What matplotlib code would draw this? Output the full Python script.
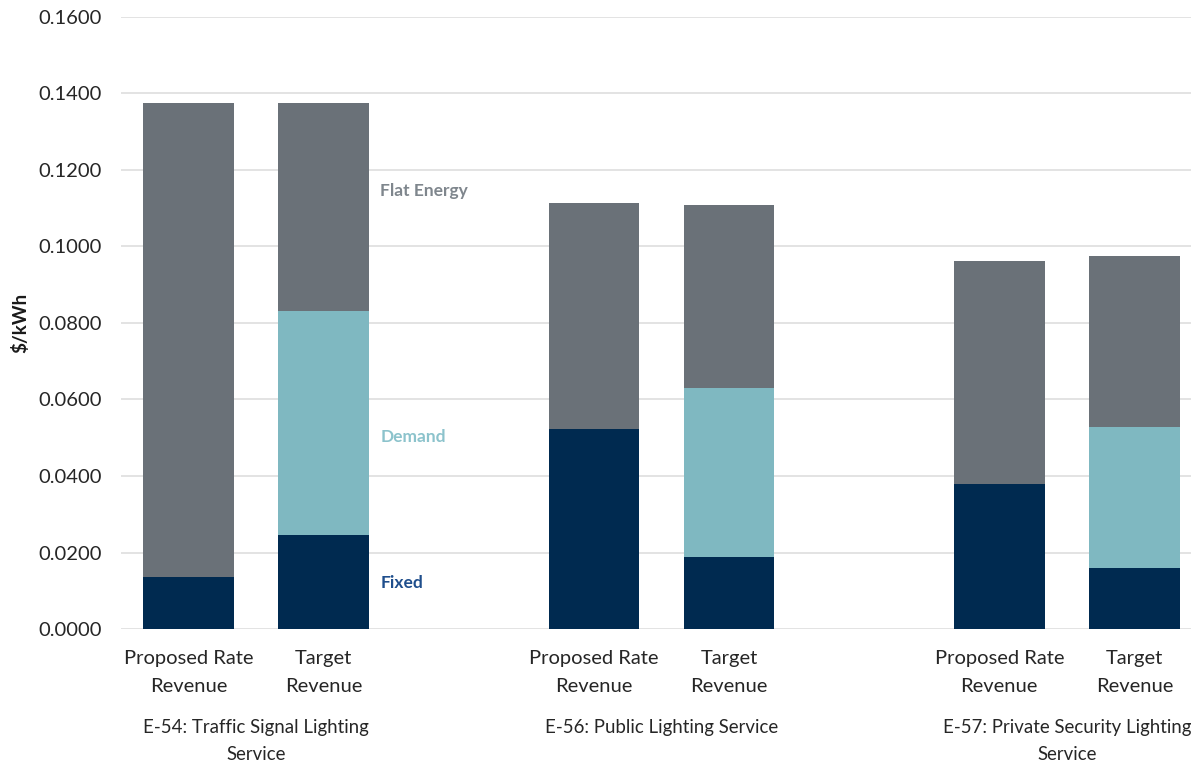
import matplotlib.pyplot as plt
import matplotlib.transforms as mtransforms
import numpy as np

plt.rcParams['font.family'] = ['Lato', 'DejaVu Sans']

bar_labels = ['Proposed Rate\nRevenue', 'Target\nRevenue'] * 3
groups = ['E-54: Traffic Signal Lighting\nService', 'E-56: Public Lighting Service',
          'E-57: Private Security Lighting\nService']

fixed = [0.0135, 0.0247, 0.0523, 0.0189, 0.0378, 0.0160]
demand = [0.0, 0.0585, 0.0, 0.0442, 0.0, 0.0368]
flat_energy = [0.1239, 0.0542, 0.0590, 0.0477, 0.0583, 0.0448]

C_FIXED = '#002A50'
C_DEMAND = '#7FB8C1'
C_FLAT = '#6A7178'

# two bars per rate class, with one empty slot between classes
x = np.array([0, 1, 3, 4, 6, 7])
w = 0.67

fig = plt.figure(figsize=(11.91, 7.65), dpi=100)
ax = fig.add_axes([121 / 1191, 136 / 765, 1081 / 1191, 612 / 765])

fixed = np.array(fixed)
demand = np.array(demand)
flat_energy = np.array(flat_energy)
ax.bar(x, fixed, w, color=C_FIXED, zorder=3)
ax.bar(x, demand, w, bottom=fixed, color=C_DEMAND, zorder=3)
ax.bar(x, flat_energy, w, bottom=fixed + demand, color=C_FLAT, zorder=3)

ax.set_xlim(-0.5, 7.5)
ax.set_ylim(0, 0.16)
ax.set_yticks(np.arange(0, 0.1601, 0.02))
ax.yaxis.set_major_formatter(plt.FuncFormatter(lambda v, p: f'{v:.4f}'))
ax.set_xticks(x)
ax.set_xticklabels(bar_labels, fontsize=14.5, color='#262626', linespacing=1.8)
ax.tick_params(axis='both', length=0, colors='#262626')
ax.tick_params(axis='y', labelsize=14.5, pad=14)
ax.tick_params(axis='x', pad=15)
ax.grid(axis='y', color='#E3E3E3', lw=1.4, zorder=0)
for s in ax.spines.values():
    s.set_visible(False)

ax.set_ylabel('$/kWh', fontsize=13.5, fontweight='bold', color='#1a1a1a')
ax.yaxis.set_label_coords(-0.085, 0.5)

# rate class names under each pair of bars
trans = mtransforms.blended_transform_factory(ax.transData, ax.transAxes)
for i, g in enumerate(groups):
    ax.text((x[2 * i] + x[2 * i + 1]) / 2, -0.1465, g, transform=trans, ha='center', va='top',
            fontsize=13.4, color='#262626', linespacing=1.72)

# series names beside the first target bar
ax.text(1.42, 0.1146, 'Flat Energy', fontsize=12.5, fontweight='bold', color='#7F868D', va='center')
ax.text(1.42, 0.0502, 'Demand', fontsize=12.5, fontweight='bold', color='#8CC3CC', va='center')
ax.text(1.42, 0.0120, 'Fixed', fontsize=12.5, fontweight='bold', color='#1F4E8C', va='center')

fig.savefig('out.png', dpi=100, facecolor='white')
